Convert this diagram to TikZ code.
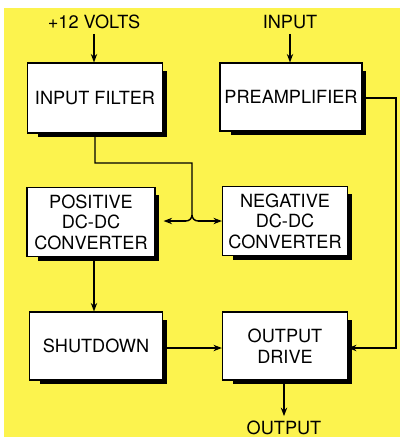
\documentclass[tikz,border=0pt]{standalone}
\usepackage{fontspec}
\setmainfont{TeX Gyre Heros}
\usepackage{tikz}
\usetikzlibrary{shadows,arrows.meta}
\definecolor{panelColor}{RGB}{252, 243, 78}

\begin{document}
\begin{tikzpicture}[x=0.025cm, y=-0.025cm, font=\fontsize{12.9}{14.6}\selectfont,
		block/.style={draw=black, line width=0.8pt, fill=white, align=center, inner sep=0pt,
			drop shadow={shadow xshift=0.2cm, shadow yshift=-0.16cm, shadow scale=0.95, opacity=1, fill=black}},
		wire/.style={line width=1pt},
		flow/.style={wire, -{Stealth[length=6pt, width=4.5pt]}}]
	% Yellow panel
	\useasboundingbox (0,0) rectangle (400,437);
	\fill[panelColor] (4,8) rectangle (400,437);
	
	% Outside labels
	\node (volts) at (94,22) {+12 VOLTS};
	\node (input) at (290,22) {INPUT};
	\node (output) at (284,428) {OUTPUT};
	
	% Blocks
	\node[block, minimum width=3.375cm, minimum height=1.75cm] (filter) at (95,98) {INPUT FILTER};
	\node[block, minimum width=3.55cm, minimum height=1.7cm] (preamp) at (291,97) {PREAMPLIFIER};
	\node[block, minimum width=3.2cm, minimum height=1.725cm] (posconv) at (91,222) {POSITIVE\\DC-DC\\CONVERTER};
	\node[block, minimum width=3.125cm, minimum height=1.725cm] (negconv) at (285,221) {NEGATIVE\\DC-DC\\CONVERTER};
	\node[block, minimum width=3.325cm, minimum height=1.7cm] (shutdown) at (96,346) {SHUTDOWN};
	\node[block, minimum width=3.125cm, minimum height=1.7cm] (drive) at (285,346) {OUTPUT\\DRIVE};
	
	% Bend points
	\coordinate (hop) at (192,163);
	\coordinate (split) at (192,221);
	\coordinate (rail) at (396,98);
	
	% Connectors
	\draw[flow] (volts.south) -- (volts.south |- filter.north);
	\draw[flow] (input.south) -- (input.south |- preamp.north);
	\draw[wire] (filter.south) |- (hop) -- ([yshift=0.15cm]split) to[out=-90, in=0] ([xshift=-0.15cm]split);
	\draw[wire] ([yshift=0.15cm]split) to[out=-90, in=180] ([xshift=0.15cm]split);
	\draw[flow] ([xshift=-0.15cm]split) -- ([xshift=0.2cm]posconv.east |- split);
	\draw[flow] ([xshift=0.15cm]split) -- (negconv.west |- split);
	\draw[flow] (volts.south |- posconv.south) -- (volts.south |- shutdown.north);
	\draw[flow] (shutdown.east |- 0,348) -- (drive.west |- 0,348);
	\draw[flow] (preamp.east |- rail) -- (rail) -- (rail |- 0,348) -- (drive.east |- 0,348);
	\draw[flow] (drive.south -| output.north) -- (output.north);
\end{tikzpicture}
\end{document}
